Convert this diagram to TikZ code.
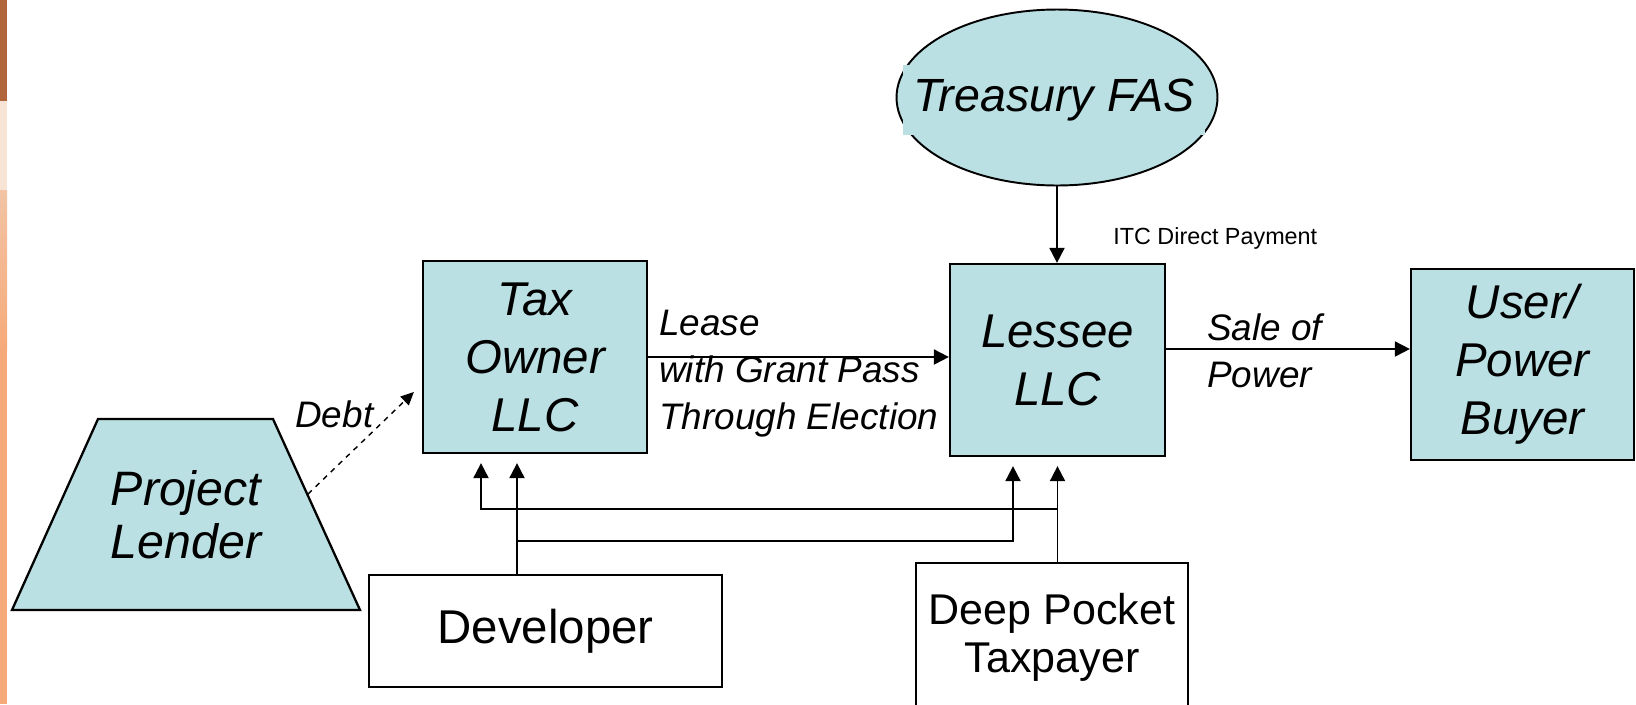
\documentclass[tikz,border=0pt]{standalone}
\usepackage{fontspec}
\setmainfont{Liberation Sans}
\usepackage{xcolor}
\usetikzlibrary{shapes,arrows,positioning,calc,arrows.meta}

\definecolor{boxblue}{RGB}{186,224,227}
\definecolor{stripbrown}{RGB}{176,101,58}
\definecolor{stripcream}{RGB}{248,228,212}
\definecolor{strippeach}{RGB}{242,196,164}
\definecolor{striporange}{RGB}{246,170,122}

\begin{document}
\begin{tikzpicture}[x=0.02cm, y=-0.02cm,
    entity/.style={draw, line width=1.3pt, fill=boxblue, align=center, inner sep=0pt,
      font=\itshape\fontsize{27}{33}\selectfont},
    party/.style={draw, line width=1.2pt, fill=white, align=center, inner sep=0pt,
      font=\fontsize{27}{33}\selectfont},
    flowlbl/.style={align=left, inner sep=0pt, font=\itshape\fontsize{21}{26.7}\selectfont},
    flow/.style={line width=1.1pt, -{Triangle[length=0.3cm, width=0.3cm]}},
    feed/.style={flow, shorten >=0.18cm}]
    \useasboundingbox (0,0) rectangle (1636,704);

    % slide edge
    \fill[stripbrown] (0,0) rectangle (7,101);
    \fill[stripcream] (0,101) rectangle (7,190);
    \shade[top color=strippeach, bottom color=striporange] (0,190) rectangle (7,350);
    \fill[striporange] (0,350) rectangle (7,704);

    % parties
    \node[entity, minimum width=4.48cm, minimum height=3.84cm] (tax) at (535,357) {Tax\\Owner\\LLC};
    \node[entity, minimum width=4.3cm, minimum height=3.84cm] (lessee) at (1057.5,360) {Lessee\\LLC};
    \node[entity, minimum width=4.46cm, minimum height=3.82cm] (user) at (1522.5,364.5) {User/\\Power\\Buyer};
    \node[entity, ellipse, line width=1.1pt, minimum width=6.42cm, minimum height=3.52cm] (fas) at (1057,97.5) {};
    \node[fill=boxblue, inner sep=0pt, minimum width=6.04cm, minimum height=1.4cm,
      font=\itshape\fontsize{26.5}{33}\selectfont] (fastext) at (1054,100) {Treasury FAS};
    \filldraw[fill=boxblue, line width=1.3pt, line join=miter]
      (12,610) -- (98,419) -- (273,419) -- (360,610) -- cycle;
    \node[align=center, inner sep=0pt, font=\itshape\fontsize{27.5}{30}\selectfont]
      (lender) at (186,514.5) {Project\\Lender};
    \coordinate (lenderedge) at (308,494);
    \node[party, minimum width=7.06cm, minimum height=2.24cm] (dev) at (545.5,631) {Developer};
    \node[party, minimum width=5.44cm, minimum height=2.98cm,
      font=\fontsize{24.5}{27.5}\selectfont] (deep) at (1052,637.5) {Deep Pocket\\Taxpayer};

    % lease, sale and grant
    \coordinate (saleout) at ($(lessee.east)+(0,-11)$);
    \draw[flow] (tax.east) -- (tax.east -| lessee.west);
    \draw[flow] (saleout) -- (saleout -| user.west);
    \draw[flow] (fas.south) -- (fas.south |- lessee.north);
    \draw[dashed, line width=0.8pt, -{Triangle[length=0.26cm, width=0.24cm]}]
      (lenderedge) -- ($(tax.west)+(-8,35)$);

    % equity into both LLCs
    \coordinate (devout) at ($(dev.north)+(-28.5,0)$);
    \coordinate (deepout) at ($(deep.north)+(5.5,0)$);
    \draw[feed] (devout) -- (devout |- tax.south);
    \draw[feed] ($(devout)+(0,-33)$) -| ($(lessee.south)+(-44.5,0)$);
    \draw[feed] (deepout) -- (deepout |- lessee.south);
    \draw[feed] ($(deepout)+(0,-53)$) -| ($(tax.south)+(-54,0)$);

    \node[flowlbl, anchor=north west] (leaselbl) at (659,310) {Lease\\with Grant Pass\\Through Election};
    \node[flowlbl, anchor=north west] (salelbl) at (1207,313) {Sale of\\Power};
    \node[flowlbl, anchor=base west] (debtlbl) at (295,427) {Debt};
    \node[anchor=west, inner sep=0pt, font=\fontsize{13.3}{16}\selectfont] (itclbl) at (1113,238) {ITC Direct Payment};
\end{tikzpicture}
\end{document}
